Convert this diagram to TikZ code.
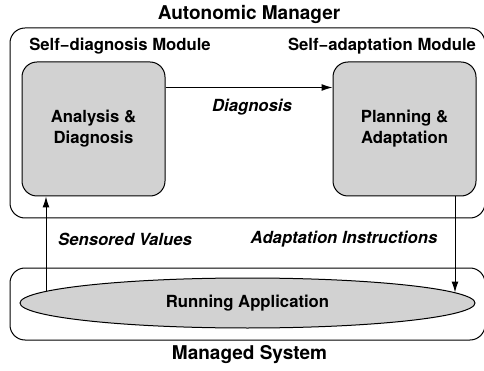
\documentclass[tikz,border=0pt]{standalone}
\usepackage{fontspec}
\setmainfont{TeX Gyre Heros}
\usetikzlibrary{shapes.geometric,arrows.meta}
\definecolor{boxgray}{RGB}{210,210,210}
\begin{document}
\begin{tikzpicture}[x=1pt,y=-1pt,
  frame/.style={draw, line width=1pt, rounded corners=15pt},
  gbox/.style={draw, line width=1pt, rounded corners=15pt, fill=boxgray,
    minimum width=143pt, minimum height=134pt, inner sep=0pt, align=center,
    font=\fontsize{16.7}{21}\selectfont\bfseries},
  lbl/.style={inner sep=0pt, font=\fontsize{16.7}{20}\selectfont\bfseries},
  ilbl/.style={inner sep=0pt, font=\fontsize{16.7}{20}\selectfont\bfseries\itshape},
  ttl/.style={inner sep=0pt, font=\fontsize{19}{22}\selectfont\bfseries},
  arr/.style={line width=1pt, -{Latex[length=11pt,width=7pt]}}]
\useasboundingbox (0,0) rectangle (484,371);
\draw[frame] (10,28) rectangle (485,218);
\draw[frame] (10,268) rectangle (485,340);
\node[ttl] (am) at (249,14) {Autonomic Manager};
\node[ttl] (ms) at (249.5,355) {Managed System};
\node[lbl] (sdm) at (120,46) {Self−diagnosis Module};
\node[lbl] (sam) at (382,46) {Self−adaptation Module};
\node[gbox] (ad) at (93.5,129) {Analysis \&\\Diagnosis};
\node[gbox] (pa) at (404.5,129) {Planning \&\\Adaptation};
\node[ellipse, draw, line width=1pt, fill=boxgray, minimum width=455pt, minimum height=50pt, inner sep=0pt, outer sep=0pt,
  font=\fontsize{16.7}{20}\selectfont\bfseries] (ra) at (247.5,303) {Running Application};
\node[ilbl] (dg) at (252,107) {Diagnosis};
\node[ilbl] (sv) at (125,239) {Sensored Values};
\node[ilbl] (ai) at (344,239) {Adaptation Instructions};
\coordinate (s1) at (46,291.4);
\coordinate (s2) at (455,292.5);
\draw[arr] ([yshift=-26pt]ad.north east) -- ([yshift=-26pt]pa.north west);
\draw[arr] (s1) -- (s1 |- ad.south);
\draw[arr] (s2 |- pa.south) -- (s2);
\end{tikzpicture}
\end{document}
